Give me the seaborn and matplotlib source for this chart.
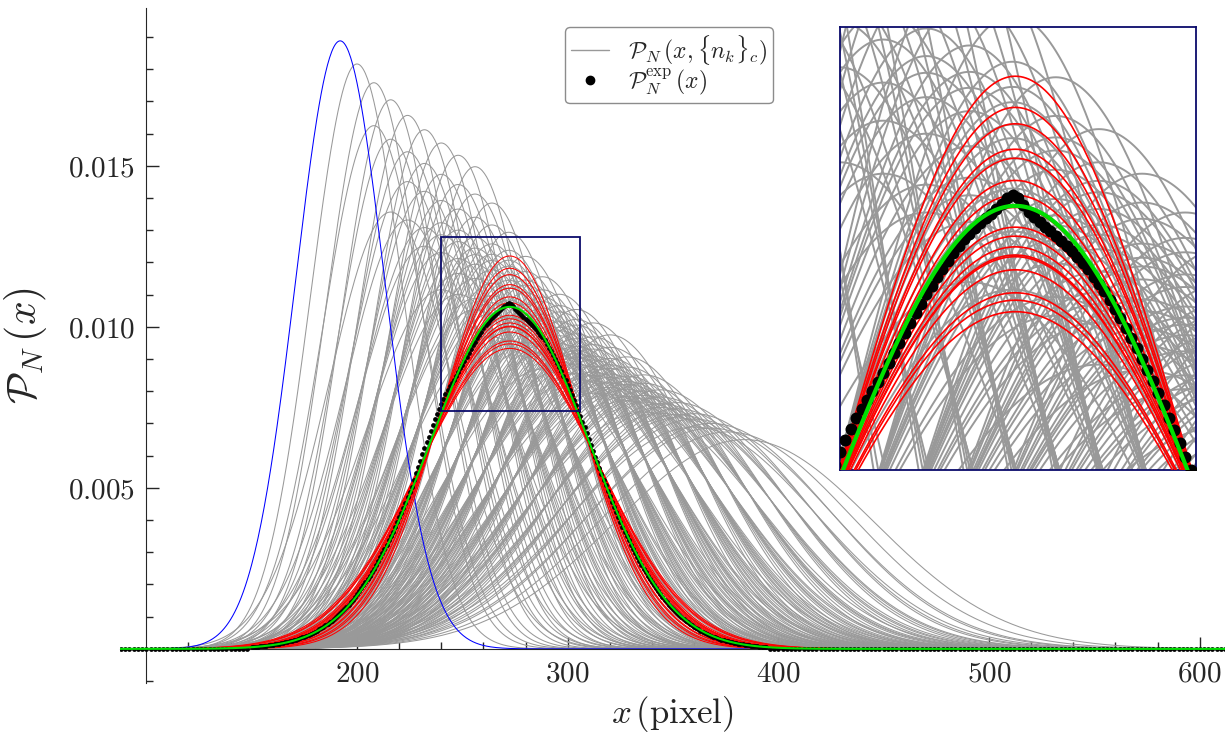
import itertools
import numpy as np
import pandas as pd
import matplotlib
matplotlib.use("Agg")
import matplotlib.pyplot as plt
import seaborn as sns
from matplotlib.ticker import FixedLocator, FixedFormatter
from matplotlib.patches import Rectangle
from matplotlib.lines import Line2D

sns.set_style("ticks")
plt.rcParams["mathtext.fontset"] = "cm"
plt.rcParams["font.family"] = ["DejaVu Serif"]

# Reading values off the picture
# configuration curves: ground curve (blue) + occupation of the modes k
# each occupied mode shifts the peak (pixel) and adds variance (pixel^2)
base_center = 192.0
base_var = 450.0
mode_shift = [0, 8, 16, 24]
mode_var = [0.0, 32.5, 153.0, 415.0]
n_atoms = 8

# red curves (configurations closest to the measured mean)
red_center = 272.5
red_peaks = [0.01220, 0.01182, 0.01162, 0.01131, 0.01120, 0.01093, 0.01075,
             0.01060, 0.01036, 0.01025, 0.01012, 0.01002, 0.01000, 0.00984,
             0.00956, 0.00947, 0.00933]

blue_center, blue_peak = 192.0, 0.01888
green_center, green_peak = 272.5, 0.01062

# measured profile, even pixels
exp_x_even = list(range(150, 396, 2))
exp_y_even = [0.000055, 0.000065, 0.000077, 0.000091, 0.000107, 0.000126, 0.000148,
              0.000172, 0.000200, 0.000232, 0.000268, 0.000309, 0.000355, 0.000408,
              0.000466, 0.000532, 0.000605, 0.000686, 0.000777, 0.000876, 0.000985,
              0.001104, 0.001235, 0.001377, 0.001531, 0.001698, 0.001877, 0.002070,
              0.002275, 0.002495, 0.002727, 0.002974, 0.003232, 0.003504, 0.003787,
              0.004081, 0.004386, 0.004701, 0.005024, 0.005455, 0.005841, 0.006231,
              0.006593, 0.006955, 0.007296, 0.007614, 0.007905, 0.008148, 0.008361,
              0.008583, 0.008829, 0.009069, 0.009310, 0.009540, 0.009758, 0.009952,
              0.010130, 0.010282, 0.010406, 0.010520, 0.010645, 0.010750, 0.010635,
              0.010480, 0.010366, 0.010252, 0.010130, 0.009992, 0.009848, 0.009670,
              0.009470, 0.009249, 0.009009, 0.008753, 0.008481, 0.008188, 0.007885,
              0.007564, 0.007226, 0.006875, 0.006513, 0.006151, 0.005791, 0.005435,
              0.005084, 0.004741, 0.004406, 0.004081, 0.003787, 0.003504, 0.003232,
              0.002974, 0.002727, 0.002495, 0.002275, 0.002070, 0.001877, 0.001698,
              0.001531, 0.001377, 0.001235, 0.001104, 0.000985, 0.000876, 0.000777,
              0.000686, 0.000605, 0.000532, 0.000466, 0.000408, 0.000355, 0.000309,
              0.000268, 0.000232, 0.000200, 0.000172, 0.000148, 0.000126, 0.000107,
              0.000091, 0.000077, 0.000065, 0.000055]
# measured profile, odd pixels
exp_x_odd = list(range(151, 394, 2))
exp_y_odd = [0.000060, 0.000071, 0.000084, 0.000099, 0.000116, 0.000136, 0.000159,
             0.000185, 0.000215, 0.000249, 0.000288, 0.000332, 0.000381, 0.000436,
             0.000498, 0.000568, 0.000645, 0.000730, 0.000825, 0.000929, 0.001043,
             0.001168, 0.001305, 0.001453, 0.001613, 0.001786, 0.001972, 0.002171,
             0.002383, 0.002609, 0.002848, 0.003101, 0.003366, 0.003643, 0.003933,
             0.004233, 0.004543, 0.004862, 0.005239, 0.005642, 0.006040, 0.006411,
             0.006774, 0.007126,
             0.007455, 0.007760, 0.008028, 0.008256, 0.008474, 0.008708, 0.008946,
             0.009187, 0.009428, 0.009648, 0.009854, 0.010045, 0.010210, 0.010348,
             0.010467, 0.010576, 0.010716, 0.010716, 0.010546, 0.010427, 0.010308,
             0.010190, 0.010065, 0.009924, 0.009758, 0.009578, 0.009357, 0.009136,
             0.008888, 0.008624, 0.008336, 0.008038, 0.007730, 0.007395, 0.007056,
             0.006694, 0.006331, 0.005970, 0.005612, 0.005259, 0.004912, 0.004573,
             0.004243, 0.003933, 0.003643, 0.003366, 0.003101, 0.002848, 0.002609,
             0.002383, 0.002171, 0.001972, 0.001786, 0.001613, 0.001453, 0.001305,
             0.001168, 0.001043, 0.000929, 0.000825, 0.000730, 0.000645, 0.000568,
             0.000498, 0.000436, 0.000381, 0.000332, 0.000288, 0.000249, 0.000215,
             0.000185, 0.000159, 0.000136, 0.000116, 0.000099, 0.000084, 0.000071,
             0.000060]
tail_x = list(range(88, 150, 2)) + list(range(396, 614, 2))
tail_y = [0.0] * len(tail_x)

NAVY = "#0b0b6b"
GREEN = "#00e000"
GRAY = "#999999"

xs = np.linspace(85, 615, 1061)


def gauss(c, h):
    # normalised gaussian given centre and peak height
    return h * np.exp(-np.pi * h**2 * (xs - c) ** 2)


# Building configurations {n_k}_c
gray_rows = []
cid = 0
for occ in itertools.product(range(n_atoms + 1), repeat=len(mode_shift) - 1):
    if sum(occ) > n_atoms or sum(occ) == 0:
        continue
    c = base_center + sum(n * s for n, s in zip(occ, mode_shift[1:]))
    v = base_var + sum(n * s for n, s in zip(occ, mode_var[1:]))
    h = 1.0 / np.sqrt(2 * np.pi * v)
    gray_rows.append(pd.DataFrame({"x": xs, "p": gauss(c, h), "curve": cid}))
    cid += 1
gray = pd.concat(gray_rows, ignore_index=True)

red = pd.concat([pd.DataFrame({"x": xs, "p": gauss(red_center, h), "curve": i})
                 for i, h in enumerate(red_peaks)], ignore_index=True)
blue = pd.DataFrame({"x": xs, "p": gauss(blue_center, blue_peak)})
green = pd.DataFrame({"x": xs, "p": gauss(green_center, green_peak)})
exp = pd.DataFrame({"x": exp_x_even + exp_x_odd + tail_x,
                    "p": exp_y_even + exp_y_odd + tail_y})


def draw(ax, lw_gray, lw_red, lw_green, dot):
    sns.lineplot(data=gray, x="x", y="p", units="curve", estimator=None,
                 color=GRAY, lw=lw_gray, ax=ax, sort=False, zorder=1)
    sns.lineplot(data=blue, x="x", y="p", color="blue", lw=lw_gray, ax=ax,
                 sort=False, zorder=2)
    sns.lineplot(data=red, x="x", y="p", units="curve", estimator=None,
                 color="red", lw=lw_red, ax=ax, sort=False, zorder=3)
    sns.scatterplot(data=exp, x="x", y="p", color="black", s=dot, lw=0,
                    ax=ax, zorder=4)
    sns.lineplot(data=green, x="x", y="p", color=GREEN, lw=lw_green, ax=ax,
                 sort=False, zorder=5)


fig = plt.figure(figsize=(12.25, 7.33), dpi=100)
ax = fig.add_axes([120 / 1225, 50 / 733, 1105 / 1225, 675 / 733])
draw(ax, 0.75, 0.75, 1.5, 12)

ax.set_xlim(87.5, 612)
ax.set_ylim(-0.00106, 0.0199)
ax.spines["left"].set_position(("data", 100))
ax.spines["bottom"].set_position(("data", 0))
ax.spines["top"].set_visible(False)
ax.spines["right"].set_visible(False)

ax.xaxis.set_major_locator(FixedLocator([200, 300, 400, 500, 600]))
ax.xaxis.set_major_formatter(FixedFormatter(["$200$", "$300$", "$400$", "$500$", "$600$"]))
ax.xaxis.set_minor_locator(FixedLocator([t for t in range(120, 600, 20) if t % 100]))
ax.yaxis.set_major_locator(FixedLocator([0.005, 0.010, 0.015]))
ax.yaxis.set_major_formatter(FixedFormatter(["$0.005$", "$0.010$", "$0.015$"]))
ax.yaxis.set_minor_locator(FixedLocator([t / 1000 for t in range(-1, 20) if t % 5]))
ax.tick_params(which="both", direction="in", width=1, labelsize=21)
ax.tick_params(which="major", length=9, pad=8)
ax.tick_params(which="minor", length=5)

ax.set_xlabel(r"$x\,(\mathrm{pixel})$", fontsize=25, labelpad=4)
ax.set_ylabel(r"$\mathcal{P}_N\,(x)$", fontsize=30, labelpad=14)

ax.add_patch(Rectangle((240, 0.0074), 66, 0.0054, fill=False, ec=NAVY, lw=1.3, zorder=6))

handles = [Line2D([], [], color=GRAY, lw=1),
           Line2D([], [], color="black", marker="o", ms=6, ls="none")]
labels = [r"$\mathcal{P}_N\,(x,\{n_k\}_c)$", r"$\mathcal{P}_N^{\mathrm{exp}}\,(x)$"]
ax.legend(handles, labels, loc="upper left", bbox_to_anchor=(0.403, 0.972),
          fontsize=17, fancybox=True, edgecolor="0.55", framealpha=1,
          handlelength=1.6, borderpad=0.25, labelspacing=0.0, borderaxespad=0)

# zoomed inset
axin = fig.add_axes([840 / 1225, 263 / 733, 356 / 1225, 443 / 733])
draw(axin, 1.4, 1.2, 3.0, 75)
axin.set_xlim(240, 306)
axin.set_ylim(0.0074, 0.0128)
axin.set_xticks([])
axin.set_yticks([])
axin.set_xlabel("")
axin.set_ylabel("")
for s in axin.spines.values():
    s.set_color(NAVY)
    s.set_linewidth(1.3)

fig.savefig("out.png", dpi=100)
